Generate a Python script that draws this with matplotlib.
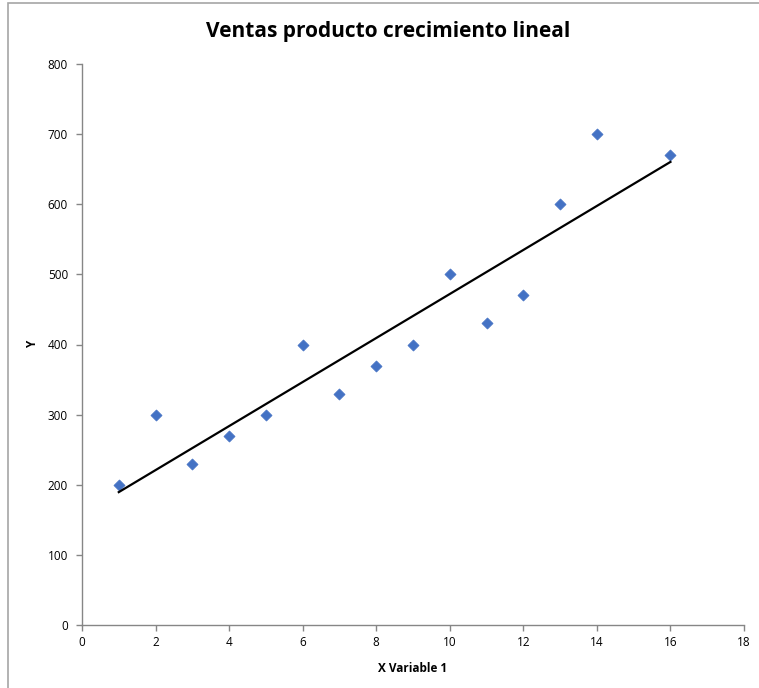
import numpy as np
import matplotlib
matplotlib.use("Agg")
import matplotlib.pyplot as plt
from matplotlib.patches import Rectangle

# Monthly sales observations
x_vals = [1, 2, 3, 4, 5, 6, 7, 8, 9, 10, 11, 12, 13, 14, 16]
y_vals = [200, 300, 230, 270, 300, 400, 330, 370, 400, 500, 430, 470, 600, 700, 670]

title = "Ventas producto crecimiento lineal"
x_label = "X Variable 1"
y_label = "Y"
x_ticks = [0, 2, 4, 6, 8, 10, 12, 14, 16, 18]
y_ticks = [0, 100, 200, 300, 400, 500, 600, 700, 800]

plt.rcParams['font.family'] = ['Open Sans', 'DejaVu Sans']

W, H = 759, 688
fig = plt.figure(figsize=(W / 100, H / 100), dpi=100)
fig.patch.set_facecolor("white")

# chart-area frame
fig.add_artist(Rectangle((8 / W, -0.05), 1.1, 1 - 3.5 / H + 0.05,
                         transform=fig.transFigure, fill=False,
                         edgecolor="#a6a6a6", linewidth=1.2))

ax = fig.add_axes([82 / W, 1 - 625 / H, (744 - 82) / W, (625 - 64) / H])

ax.scatter(x_vals, y_vals, marker="D", s=32, color="#4472c4",
           edgecolors="#4472c4", linewidths=0.5, zorder=3)

# least-squares trend line
slope, intercept = np.polyfit(x_vals, y_vals, 1)
xs = np.array([min(x_vals), max(x_vals)])
ax.plot(xs, slope * xs + intercept, color="black", linewidth=1.6, zorder=4)

ax.set_xlim(0, 18)
ax.set_ylim(0, 800)
ax.set_xticks(x_ticks)
ax.set_yticks(y_ticks)
ax.tick_params(axis="both", labelsize=8.5, colors="#868686", labelcolor="black",
               length=4, width=1)
ax.tick_params(axis="y", pad=6)
ax.tick_params(axis="x", pad=4)

for side in ["top", "right"]:
    ax.spines[side].set_visible(False)
for side in ["left", "bottom"]:
    ax.spines[side].set_color("#868686")
    ax.spines[side].set_linewidth(1)

ax.set_xlabel(x_label, fontsize=8.5, fontweight="bold", labelpad=9)
ax.set_ylabel(y_label, fontsize=8.5, fontweight="bold", labelpad=6)
fig.text(388 / W, 1 - 32 / H, title, ha="center", va="center",
         fontsize=15, fontweight="bold")

fig.savefig("out.png", dpi=100, facecolor="white")
